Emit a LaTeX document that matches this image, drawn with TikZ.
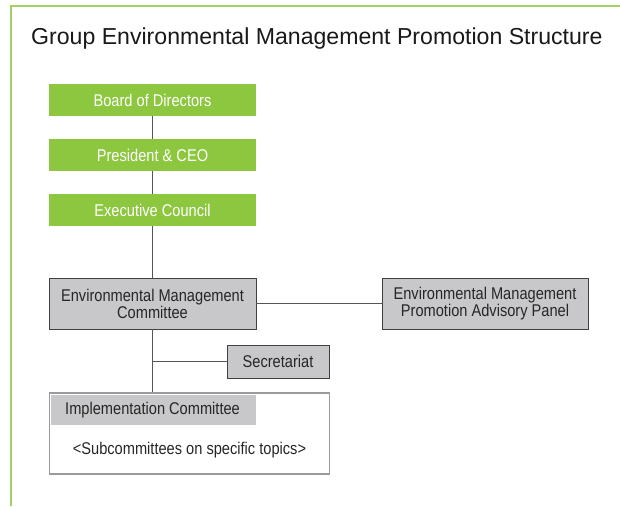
\documentclass[tikz,border=0pt]{standalone}
\usepackage{fontspec}
\setmainfont{Liberation Sans}
\newfontfamily\narrowfont[FakeStretch=0.86]{Liberation Sans}
\definecolor{frameGreen}{HTML}{A3D065}
\definecolor{boxGreen}{HTML}{8DC63F}
\definecolor{boxGray}{HTML}{C8C8CA}
\definecolor{edgeGray}{HTML}{404040}
\definecolor{lightEdge}{HTML}{9A9A9C}
\definecolor{lineGray}{HTML}{555555}
\tikzset{
  boxfont/.style={font=\narrowfont\fontsize{17}{19}\selectfont},
  greenbox/.style={fill=boxGreen, minimum width=207pt, minimum height=32pt, inner sep=0pt, text=white, boxfont},
  graybox/.style={fill=boxGray, draw=edgeGray, line width=0.9pt, inner sep=0pt, align=center, text=black!85, boxfont},
  conn/.style={draw=lineGray, line width=0.9pt},
}
\begin{document}
\begin{tikzpicture}[x=1pt,y=-1pt]
\useasboundingbox (0,0) rectangle (620,506);
% frame
\draw[frameGreen, line width=1.5pt] (11,506) -- (11,6) -- (620,6);
\node[anchor=base west, font=\fontsize{23.1}{27}\selectfont, text=black!90, inner sep=0pt] (title) at (31,44) {Group Environmental Management Promotion Structure};
% green boxes
\node[greenbox] (board) at (152.5,100) {Board of Directors};
\node[greenbox] (pres) at (152.5,155) {President \& CEO};
\node[greenbox] (exec) at (152.5,210) {Executive Council};
% gray boxes
\node[graybox, minimum width=207pt, minimum height=51pt] (emc) at (152.5,303.5) {Environmental Management\\[-2pt]Committee};
\node[graybox, minimum width=206pt, minimum height=51pt] (adv) at (485,303.5) {Environmental Management\\[-2pt]Promotion Advisory Panel};
\node[graybox, minimum width=102pt, minimum height=33pt] (sec) at (278,361.5) {Secretariat};
% implementation committee
\node[draw=lightEdge, line width=1.5pt, minimum width=280pt, minimum height=81pt, inner sep=0pt] (impl) at (189.5,433.5) {};
\node[fill=boxGray, minimum width=205pt, minimum height=30pt, inner sep=0pt, anchor=north west] (implhead) at (50.5,394.5) {};
\node[boxfont, text=black!85, anchor=west, inner sep=0pt] (impltext) at ([xshift=14.5pt]implhead.west) {Implementation Committee};
\node[boxfont, text=black!85] (subc) at (189.5,450) {<Subcommittees on specific topics>};
% connectors
\draw[conn] (board.south) -- (pres.north);
\draw[conn] (pres.south) -- (exec.north);
\draw[conn] (exec.south) -- (emc.north);
\draw[conn] (emc.south) -- (impl.north -| emc.south);
\draw[conn] (emc.east) -- (adv.west);
\coordinate (jn) at (152.5,361.5);
\draw[conn] (jn) -- (sec.west);
\end{tikzpicture}
\end{document}
